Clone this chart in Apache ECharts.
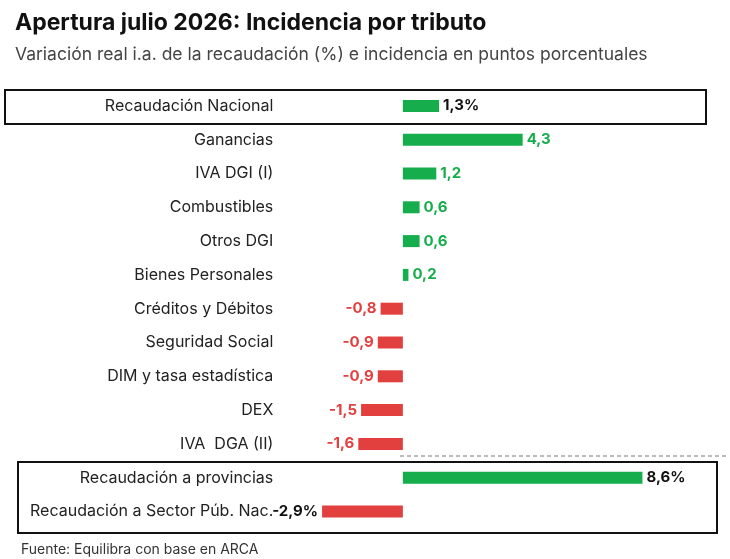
<!DOCTYPE html>
<html lang="es">
<head>
<meta charset="UTF-8">
<title>Apertura julio 2026</title>
<script src="https://cdn.jsdelivr.net/npm/echarts@6/dist/echarts.min.js"></script>
<style>
body{margin:0;background:#fff}
#chart{width:730px;height:559px}
</style>
</head>
<body>
<div id="chart"></div>
<script>
// datos
var categorias = ['Recaudación Nacional','Ganancias','IVA DGI (I)','Combustibles','Otros DGI','Bienes Personales',
  'Créditos y Débitos','Seguridad Social','DIM y tasa estadística','DEX','IVA  DGA (II)',
  'Recaudación a provincias','Recaudación a Sector Púb. Nac.'];
var valores = [1.3, 4.3, 1.2, 0.6, 0.6, 0.2, -0.8, -0.9, -0.9, -1.5, -1.6, 8.6, -2.9];
var totales = [0, 11, 12]; // filas con % y etiqueta negra

var verde = '#16ad4c', rojo = '#e2403f';

var datos = valores.map(function(v, i){
  var esTotal = totales.indexOf(i) >= 0;
  var txt = (v < 0 ? '-' : '') + Math.abs(v).toFixed(1).replace('.', ',') + (esTotal ? '%' : '');
  var col = esTotal ? '#111' : (v < 0 ? rojo : verde);
  return {
    value: v,
    itemStyle: {color: v < 0 ? rojo : verde},
    label: {show: true, position: v < 0 ? 'left' : 'right', formatter: txt, color: col,
      fontWeight: 'bold', fontSize: 15, distance: 4}
  };
});

var chart = echarts.init(document.getElementById('chart'));
chart.setOption({
  textStyle: {fontFamily: 'Inter, "Noto Sans", sans-serif'},
  title: [
    {text: 'Apertura julio 2026: Incidencia por tributo', left: 10, top: 7,
      textStyle: {fontSize: 23, fontWeight: 'bold', color: '#111'}},
    {text: 'Variación real i.a. de la recaudación (%) e incidencia en puntos porcentuales', left: 10, top: 41,
      textStyle: {fontSize: 17.5, fontWeight: 'normal', color: '#444'}},
    {text: 'Fuente: Equilibra con base en ARCA', left: 16, top: 538,
      textStyle: {fontSize: 14, fontWeight: 'normal', color: '#333'}}
  ],
  grid: {left: 319.3, right: 20.7, top: 89, bottom: 30.6},
  xAxis: {type: 'value', min: -3, max: 11, show: false},
  yAxis: {
    type: 'category', data: categorias, inverse: true,
    axisLine: {show: false}, axisTick: {show: false},
    axisLabel: {align: 'right', margin: 46, fontSize: 16, color: '#222'}
  },
  series: [{type: 'bar', data: datos, barWidth: 12}],
  graphic: [
    {type: 'rect', shape: {x: 5, y: 90, width: 701, height: 34},
      style: {fill: 'none', stroke: '#111', lineWidth: 2}},
    {type: 'rect', shape: {x: 18, y: 462, width: 699, height: 71},
      style: {fill: 'none', stroke: '#111', lineWidth: 2}},
    {type: 'line', shape: {x1: 400, y1: 456, x2: 726, y2: 456},
      style: {stroke: '#777', lineWidth: 1, lineDash: [4, 3]}}
  ]
});
</script>
</body>
</html>
